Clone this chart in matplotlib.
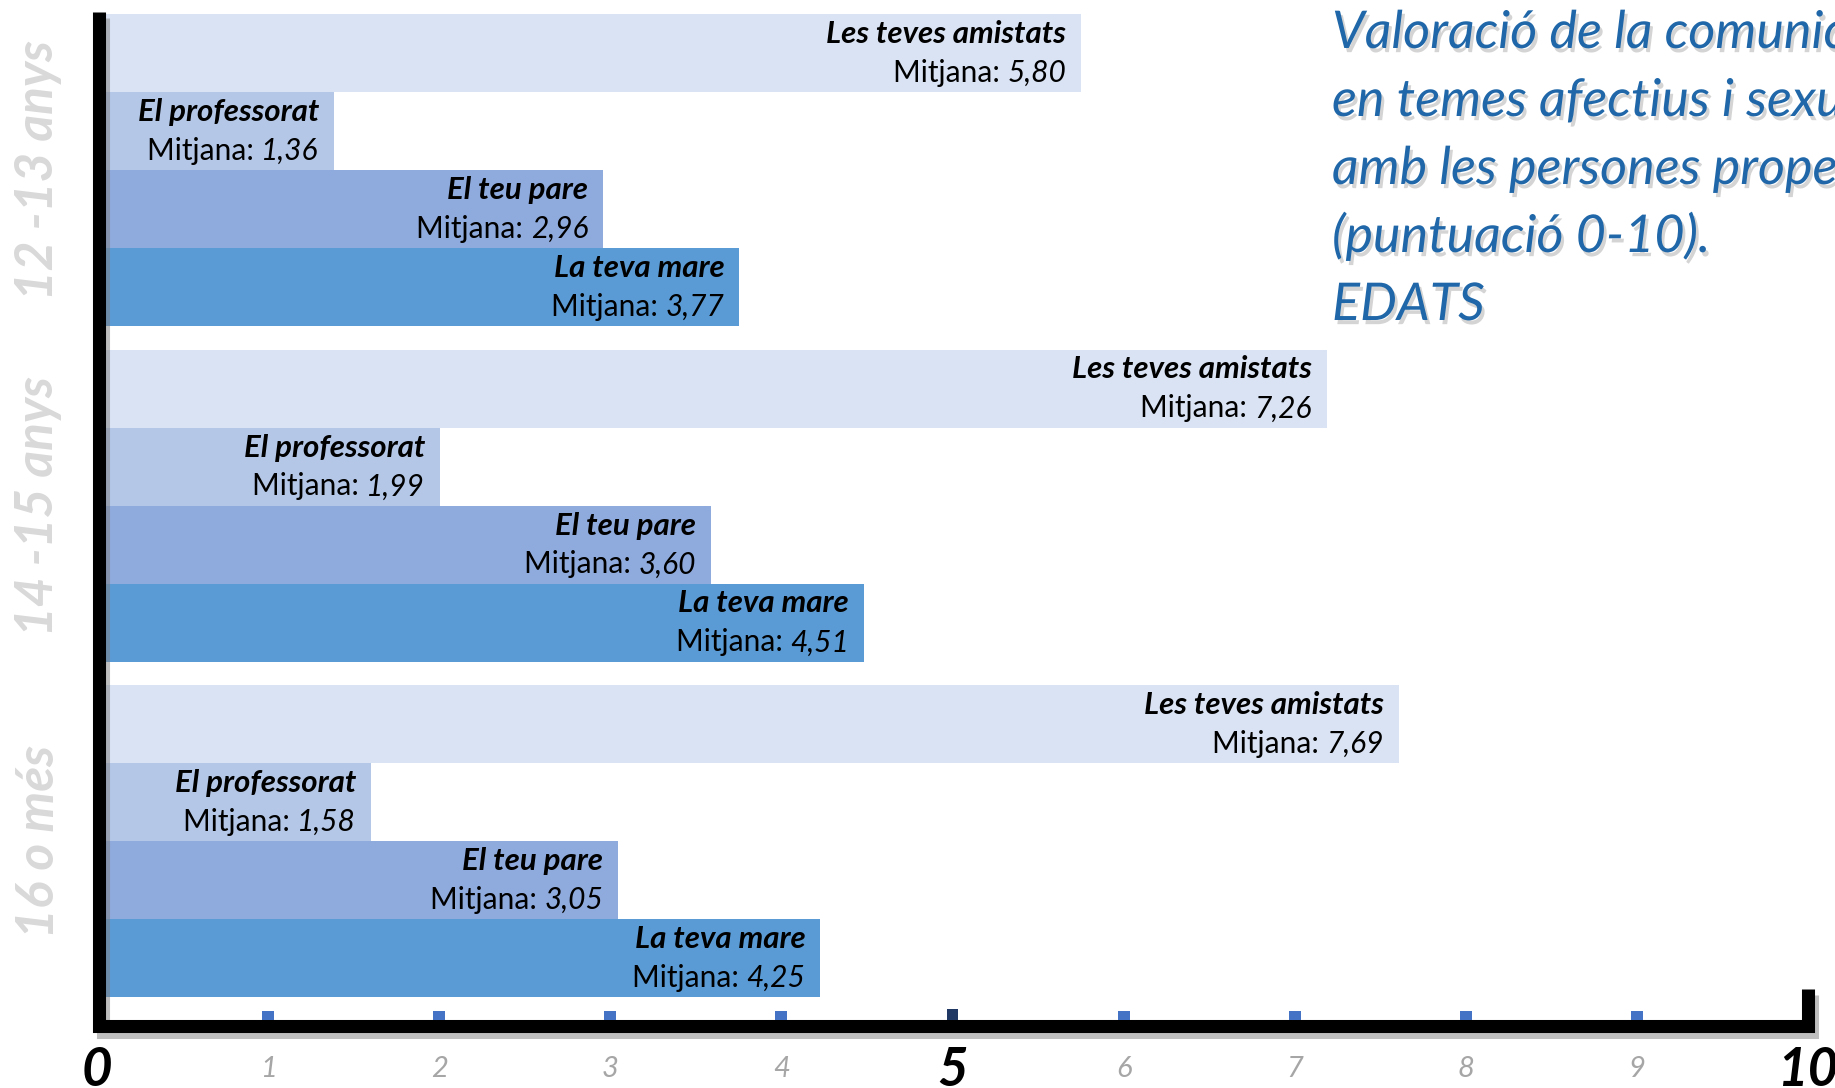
import matplotlib
matplotlib.use("Agg")
import matplotlib.pyplot as plt
import matplotlib.patheffects as pe

plt.rcParams['font.family'] = ['Lato', 'DejaVu Sans']

# data
groups = ['12 -13 anys', '14 -15 anys', '16 o més']
persons = ['Les teves amistats', 'El professorat', 'El teu pare', 'La teva mare']
vals_12_13 = [5.80, 1.36, 2.96, 3.77]
vals_14_15 = [7.26, 1.99, 3.60, 4.51]
vals_16_mes = [7.69, 1.58, 3.05, 4.25]
values = [vals_12_13, vals_14_15, vals_16_mes]
scale_ticks = [0, 1, 2, 3, 4, 5, 6, 7, 8, 9, 10]
big_ticks = [0, 5, 10]

colors = ['#DAE3F3', '#B4C7E7', '#8FAADC', '#5B9BD5']
title_lines = ["Valoració de la comunicació", "en temes afectius i sexuals",
               "amb les persones properes", "(puntuació 0-10).", "EDATS"]

W, H = 1835, 1088
fig = plt.figure(figsize=(W / 100, H / 100), dpi=100)

# bars: one unit = 168.3 px, zero at x=105 px; y in pixels from the top
ax = fig.add_axes([0, 0, 1, 1])
ax.set_xlim(-105 / 168.3, (W - 105) / 168.3)
ax.set_ylim(H, 0)
ax.axis('off')

bar_h = 78
group_top = [14, 349.5, 685]
for g, vals in enumerate(values):
    for i, v in enumerate(vals):
        top = group_top[g] + i * bar_h
        ax.barh(top + bar_h / 2, v, height=bar_h, left=0, color=colors[i], zorder=1)
        ax.annotate(persons[i], xy=(v, top + 29), xytext=(-15, 0), textcoords='offset pixels',
                    ha='right', va='baseline', fontsize=22.5, fontweight='bold', style='italic',
                    color='black', zorder=3)
        num = ax.annotate(f"{v:.2f}".replace('.', ','), xy=(v, top + 68), xytext=(-15, 0),
                          textcoords='offset pixels', ha='right', va='baseline',
                          fontsize=21.5, style='italic', color='black', zorder=3)
        ax.annotate("Mitjana: ", xy=(0, 0), xycoords=num, ha='right', va='bottom',
                    fontsize=21.5, color='black', zorder=3)

# group labels and frame in pixel coordinates
frame = fig.add_axes([0, 0, 1, 1], zorder=2)
frame.set_xlim(0, W)
frame.set_ylim(H, 0)
frame.axis('off')
frame.patch.set_alpha(0)

for g, name in enumerate(groups):
    frame.text(39, group_top[g] + 2 * bar_h, name, rotation=90, ha='center', va='center',
               fontsize=37, fontweight='bold', style='italic', color='#D9D9D9')

shadow = [pe.SimpleLineShadow(offset=(3, -4), shadow_color='#7f7f7f', alpha=0.5), pe.Normal()]
frame.plot([98.5, 98.5, 1808, 1808], [12, 1026, 1026, 989], color='black', lw=9.4,
           solid_joinstyle='miter', solid_capstyle='butt', path_effects=shadow)

title_fx = [pe.SimplePatchShadow(offset=(2, -3), shadow_rgbFace='#555555', alpha=0.25), pe.Normal()]
for k, line in enumerate(title_lines):
    frame.text(1332, 48 + k * 68, line, ha='left', va='baseline', fontsize=37.5, style='italic',
               color='#1F67A8', path_effects=title_fx)

# decorative 0-10 scale
tax = fig.add_axes([97 / W, 0, (1808 - 97) / W, 1], zorder=3)
tax.set_xlim(0, 10)
tax.set_ylim(H, 0)
tax.axis('off')
tax.patch.set_alpha(0)
for t in scale_ticks:
    if t in big_ticks:
        tax.text(t, 1086, str(t), ha='center', va='baseline', fontsize=38,
                 fontweight='bold', style='italic', color='black')
        if t == 5:
            tax.bar(t, 11, width=0.07, bottom=1009, color='#1F3864')
    else:
        tax.bar(t, 9, width=0.07, bottom=1011, color='#4472C4')
        tax.text(t, 1077, str(t), ha='center', va='baseline', fontsize=21,
                 style='italic', color='#A6A6A6')

fig.savefig('out.png', dpi=100)
